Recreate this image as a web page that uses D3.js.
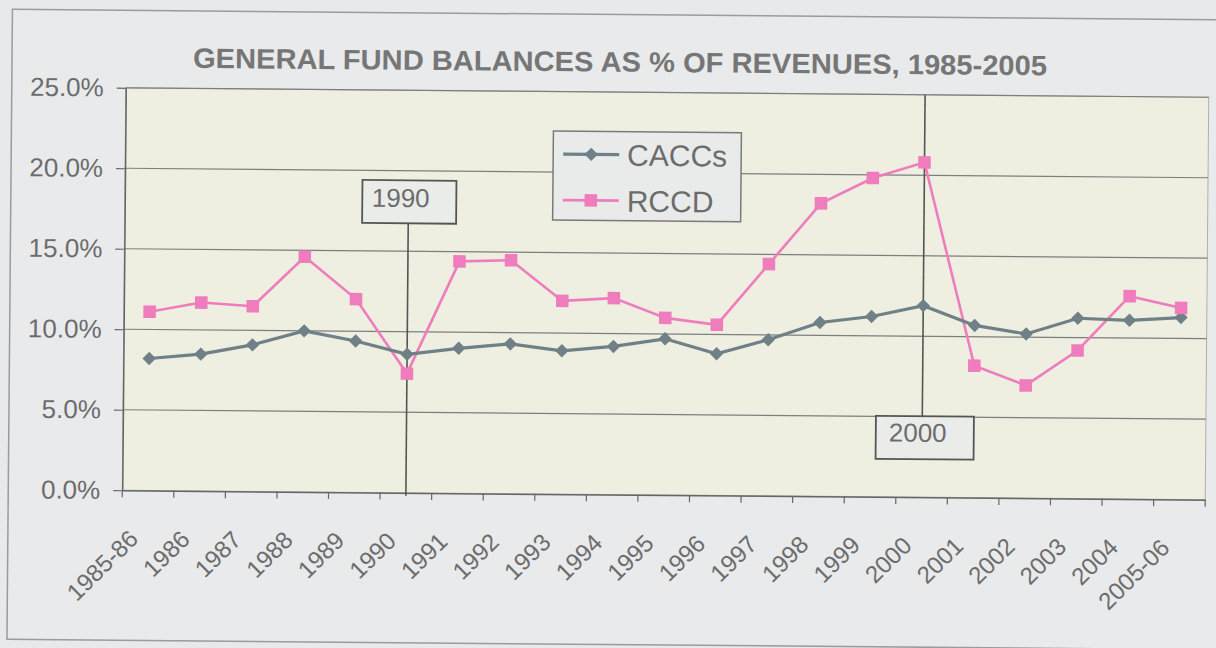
<!DOCTYPE html>
<html>
<head>
<meta charset="utf-8">
<script src="https://cdn.jsdelivr.net/npm/d3@7"></script>
<style>
  html, body { margin: 0; padding: 0; background: #e7e9ea; }
  svg { display: block; }
  text { font-family: "Liberation Sans", Arial, sans-serif; }
</style>
</head>
<body>
<svg id="chart" width="1216" height="648"></svg>
<script>
const title = "GENERAL FUND BALANCES AS % OF REVENUES, 1985-2005";
const categories = ["1985-86","1986","1987","1988","1989","1990","1991","1992","1993","1994","1995","1996","1997","1998","1999","2000","2001","2002","2003","2004","2005-06"];
const cacc = [8.2, 8.5, 9.1, 10.0, 9.4, 8.6, 9.0, 9.3, 8.9, 9.2, 9.7, 8.8, 9.7, 10.8, 11.2, 11.9, 10.7, 10.2, 11.2, 11.1, 11.3];
const rccd = [11.1, 11.7, 11.5, 14.6, 12.0, 7.4, 14.4, 14.5, 12.0, 12.2, 11.0, 10.6, 14.4, 18.2, 19.8, 20.8, 8.2, 7.0, 9.2, 12.6, 11.9];
const seriesNames = ["CACCs", "RCCD"];
const yTicks = [0, 5, 10, 15, 20, 25];
const annotations = ["1990", "2000"];

const svg = d3.select("#chart");
const W = 1216, H = 648;
const L = 124, R = 1207, T = 92.5, B = 495;
const textColor = "#6c6c6c";
const caccColor = "#6f8087";
const rccdColor = "#ef7dbd";

const g = svg.append("g").attr("transform", "rotate(0.5, 666, 293)");

// outer frame
g.append("rect").attr("x", -20).attr("y", -20).attr("width", W + 40).attr("height", H + 40).attr("fill", "#e7e9ea");
g.append("rect").attr("x", 10).attr("y", 15).attr("width", 1230).attr("height", 630)
  .attr("fill", "#e8eaeb").attr("stroke", "#9a9c9c").attr("stroke-width", 1.5);

const x = d3.scaleBand().domain(categories).range([L, R]).padding(0);
const y = d3.scaleLinear().domain([0, 25]).range([B, T]);
const xc = d => x(d) + x.bandwidth() / 2;

// plot area
g.append("rect").attr("x", L).attr("y", T).attr("width", R - L).attr("height", B - T)
  .attr("fill", "#eeeee1").attr("stroke", "#b0b0aa").attr("stroke-width", 1);

// gridlines
g.append("g").selectAll("line").data(yTicks.filter(d => d > 0)).join("line")
  .attr("x1", L).attr("x2", R).attr("y1", d => y(d)).attr("y2", d => y(d))
  .attr("stroke", "#7d7f7f").attr("stroke-width", 1.2);

// title
g.append("text").attr("x", 191).attr("y", 72)
  .attr("font-size", 28).attr("font-weight", "bold").attr("fill", "#767676")
  .attr("textLength", 854).attr("lengthAdjust", "spacingAndGlyphs")
  .text(title);

// y axis
const yAxis = d3.axisLeft(y).tickValues(yTicks).tickFormat(d => d.toFixed(1) + "%")
  .tickSize(9).tickPadding(13).tickSizeOuter(0);
const ya = g.append("g").attr("transform", `translate(${L},0)`).call(yAxis);
ya.select(".domain").attr("stroke", "#666").attr("stroke-width", 1.5);
ya.selectAll(".tick line").attr("stroke", "#666").attr("stroke-width", 1.2);
ya.selectAll(".tick text").attr("font-size", 26).attr("fill", textColor)
  .attr("font-family", "'Liberation Sans', Arial, sans-serif");

// x axis
const xAxis = d3.axisBottom(x).tickSize(0).tickSizeOuter(0).tickPadding(0);
const xa = g.append("g").attr("transform", `translate(0,${B})`).call(xAxis);
xa.select(".domain").attr("stroke", "#666").attr("stroke-width", 1.5);
xa.selectAll(".tick text")
  .attr("font-size", 24).attr("fill", textColor)
  .attr("font-family", "'Liberation Sans', Arial, sans-serif")
  .attr("text-anchor", "end")
  .attr("dy", 0)
  .attr("transform", "translate(-8,50) rotate(-45)");
// boundary tick marks
const bounds = categories.map(c => x(c)).concat([R]);
xa.append("g").selectAll("line").data(bounds).join("line")
  .attr("x1", d => d).attr("x2", d => d).attr("y1", 0).attr("y2", 7)
  .attr("stroke", "#666").attr("stroke-width", 1.2);

// annotation lines
const ann1 = xc(annotations[0]);
const ann2 = xc(annotations[1]);
const box1 = {x: 361.5, y: 182.6, w: 94, h: 43};
const box2 = {x: 877, y: 414, w: 98, h: 43};
g.append("line").attr("x1", ann1).attr("x2", ann1).attr("y1", box1.y + box1.h).attr("y2", B + 3)
  .attr("stroke", "#555").attr("stroke-width", 1.6);
g.append("line").attr("x1", ann2).attr("x2", ann2).attr("y1", T).attr("y2", box2.y)
  .attr("stroke", "#555").attr("stroke-width", 1.6);

// series
const line = d3.line().x((d, i) => xc(categories[i])).y(d => y(d));
g.append("path").datum(rccd).attr("d", line).attr("fill", "none")
  .attr("stroke", rccdColor).attr("stroke-width", 2.6);
g.append("path").datum(cacc).attr("d", line).attr("fill", "none")
  .attr("stroke", caccColor).attr("stroke-width", 3.2);

const diamond = d3.symbol().type(d3.symbolDiamond2).size(115);
const square = d3.symbol().type(d3.symbolSquare2).size(200);

g.append("g").selectAll("path").data(cacc).join("path")
  .attr("d", diamond)
  .attr("transform", (d, i) => `translate(${xc(categories[i])},${y(d)})`)
  .attr("fill", caccColor);
g.append("g").selectAll("path").data(rccd).join("path")
  .attr("d", square)
  .attr("transform", (d, i) => `translate(${xc(categories[i])},${y(d)})`)
  .attr("fill", rccdColor);

// annotation boxes
[[box1, annotations[0], 9.5, 26.7], [box2, annotations[1], 13, 25.5]].forEach(([b, t, px, py]) => {
  g.append("rect").attr("x", b.x).attr("y", b.y).attr("width", b.w).attr("height", b.h)
    .attr("fill", "#eaecea").attr("stroke", "#555").attr("stroke-width", 1.8);
  g.append("text").attr("x", b.x + px).attr("y", b.y + py)
    .attr("font-size", 26).attr("fill", textColor).text(t);
});

// legend
const lg = g.append("g");
lg.append("rect").attr("x", 552).attr("y", 132).attr("width", 188).attr("height", 89)
  .attr("fill", "#e9ebea").attr("stroke", "#7a7a7a").attr("stroke-width", 1.5);
const legendItems = [
  {name: seriesNames[0], color: caccColor, sym: diamond, w: 3.2, cy: 155},
  {name: seriesNames[1], color: rccdColor, sym: square, w: 2.6, cy: 201}
];
legendItems.forEach(it => {
  lg.append("line").attr("x1", 562).attr("x2", 618).attr("y1", it.cy).attr("y2", it.cy)
    .attr("stroke", it.color).attr("stroke-width", it.w);
  lg.append("path").attr("d", it.sym).attr("transform", `translate(590,${it.cy})`).attr("fill", it.color);
  lg.append("text").attr("x", 626).attr("y", it.cy + 11).attr("font-size", 30)
    .attr("fill", textColor).text(it.name);
});
</script>
</body>
</html>
